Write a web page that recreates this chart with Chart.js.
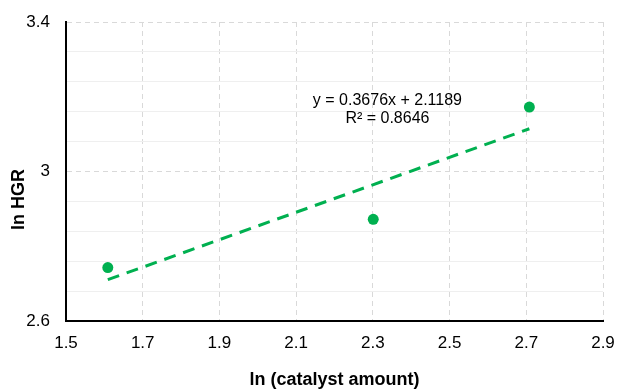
<!DOCTYPE html>
<html>
<head>
<meta charset="utf-8">
<script src="https://cdn.jsdelivr.net/npm/chart.js@4.4.1/dist/chart.umd.min.js"></script>
<style>
  html, body { margin: 0; padding: 0; background: #ffffff; }
  #wrap { width: 618px; height: 389px; position: relative; }
</style>
</head>
<body>
<div id="wrap"><canvas id="c" width="618" height="389"></canvas></div>
<script>
// ---- data ----
const xValues = [1.609, 2.301, 2.708];          // ln (catalyst amount)
const yValues = [2.743, 2.872, 3.1725];         // ln HGR
const trendX = [1.609, 2.708];                  // trendline ends
const trendY = [2.7105, 3.1144];
const xTicks = [1.5, 1.7, 1.9, 2.1, 2.3, 2.5, 2.7, 2.9];
const yGrid = [2.6, 2.68, 2.76, 2.84, 2.92, 3.0, 3.08, 3.16, 3.24, 3.32, 3.4];
const yLabeled = [2.6, 3.0, 3.4];
const yLabelText = ['2.6', '3', '3.4'];
const equationLines = ['y = 0.3676x + 2.1189', 'R\u00B2 = 0.8646'];
const xTitle = 'ln (catalyst amount)';
const yTitle = 'ln HGR';

const GREEN = '#00B050';
const FONT = "'Liberation Sans', Arial, sans-serif";

function isMajorY(v) {
  return yLabeled.some(m => Math.abs(m - v) < 1e-6);
}

const overlay = {
  id: 'overlay',
  afterDatasetsDraw(chart) {
    const ctx = chart.ctx;
    const xs = chart.scales.x, ys = chart.scales.y;
    ctx.save();
    ctx.fillStyle = '#000';
    ctx.font = "16px " + FONT;
    ctx.textAlign = 'center';
    ctx.textBaseline = 'middle';
    const cx = xs.getPixelForValue(2.338);
    const cy = ys.getPixelForValue(3.19);
    ctx.fillText(equationLines[0], cx, cy);
    ctx.fillText(equationLines[1], cx, cy + 18.6);
    ctx.restore();
  },
  afterDraw(chart) {
    const ctx = chart.ctx;
    ctx.save();
    ctx.fillStyle = '#000';
    ctx.font = "bold 18px " + FONT;
    ctx.textAlign = 'center';
    ctx.textBaseline = 'middle';
    ctx.translate(19, 199.5);
    ctx.rotate(-Math.PI / 2);
    ctx.fillText(yTitle, 0, 0);
    ctx.restore();
  }
};

new Chart(document.getElementById('c'), {
  type: 'scatter',
  data: {
    datasets: [
      {
        label: 'trend',
        data: trendX.map((x, i) => ({ x: x, y: trendY[i] })),
        showLine: true,
        borderColor: GREEN,
        borderWidth: 3,
        borderDash: [12, 8],
        pointRadius: 0,
        fill: false,
        order: 2
      },
      {
        label: 'data',
        data: xValues.map((x, i) => ({ x: x, y: yValues[i] })),
        backgroundColor: GREEN,
        borderColor: GREEN,
        borderWidth: 0,
        pointRadius: 5.5,
        pointHoverRadius: 5.5,
        order: 1
      }
    ]
  },
  options: {
    responsive: false,
    animation: false,
    events: [],
    layout: { padding: { top: 22, right: 15, left: 0, bottom: 0 } },
    plugins: { legend: { display: false }, tooltip: { enabled: false } },
    scales: {
      x: {
        type: 'linear',
        min: 1.5, max: 2.9,
        afterBuildTicks: s => { s.ticks = xTicks.map(v => ({ value: v })); },
        afterFit: s => { s.height = 68; s.paddingRight = 0; s.paddingLeft = 0; },
        ticks: {
          color: '#000',
          font: { family: FONT, size: 17 },
          padding: 12,
          maxRotation: 0,
          callback: v => Number(v).toFixed(1)
        },
        grid: { color: '#d9d9d9', lineWidth: 1, drawTicks: false },
        border: { display: true, color: '#000', width: 2, dash: [5, 4] },
        title: {
          display: true,
          text: xTitle,
          color: '#000',
          font: { family: FONT, size: 18, weight: 'bold', lineHeight: 1 },
          padding: { top: 0, bottom: 0 }
        }
      },
      y: {
        type: 'linear',
        min: 2.6, max: 3.4,
        afterBuildTicks: s => { s.ticks = yGrid.map(v => ({ value: v })); },
        afterFit: s => { s.width = 66; s.paddingTop = 0; s.paddingBottom = 0; },
        ticks: {
          color: '#000',
          font: { family: FONT, size: 17 },
          padding: 16,
          callback: v => {
            const i = yLabeled.findIndex(m => Math.abs(m - v) < 1e-6);
            return i >= 0 ? yLabelText[i] : '';
          }
        },
        grid: {
          drawTicks: false,
          lineWidth: 1,
          color: c => (c.tick && isMajorY(c.tick.value)) ? '#d9d9d9' : '#efefef'
        },
        border: {
          display: true, color: '#000', width: 2,
          dash: c => (c.tick && isMajorY(c.tick.value)) ? [5, 4] : []
        }
      }
    }
  },
  plugins: [overlay]
});
</script>
</body>
</html>
